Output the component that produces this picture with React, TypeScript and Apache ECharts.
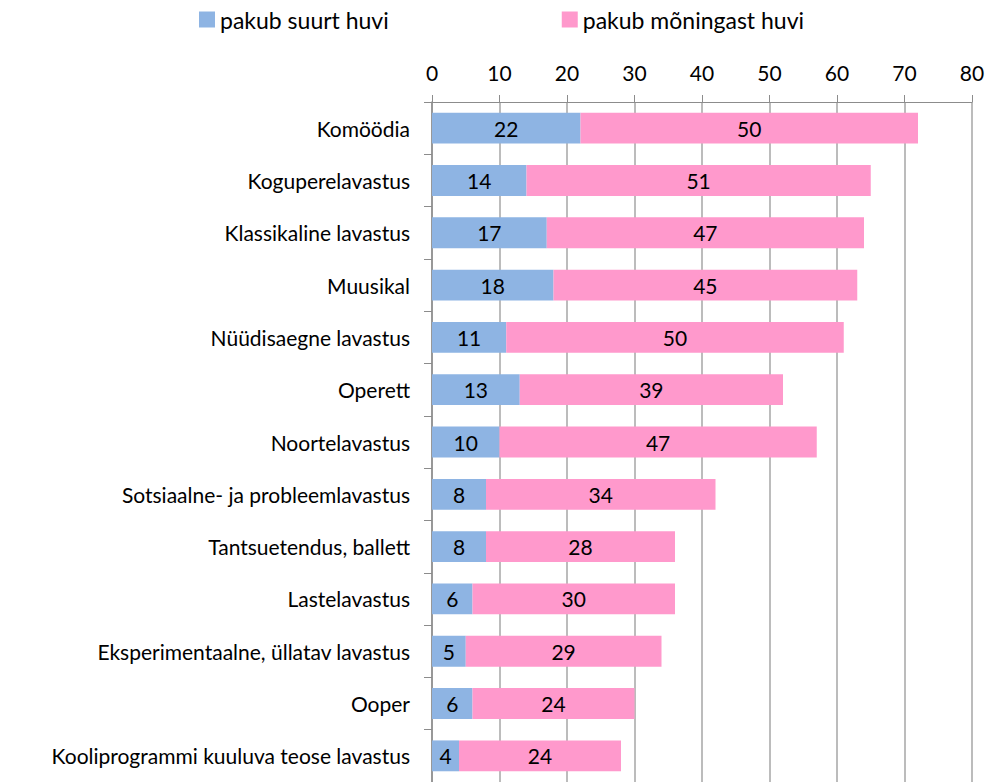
import React, { useEffect, useRef } from "react";
import * as echarts from "echarts";

const categories = [
  "Komöödia",
  "Koguperelavastus",
  "Klassikaline lavastus",
  "Muusikal",
  "Nüüdisaegne lavastus",
  "Operett",
  "Noortelavastus",
  "Sotsiaalne- ja probleemlavastus",
  "Tantsuetendus, ballett",
  "Lastelavastus",
  "Eksperimentaalne, üllatav lavastus",
  "Ooper",
  "Kooliprogrammi kuuluva teose lavastus",
];
const suurtHuvi = [22, 14, 17, 18, 11, 13, 10, 8, 8, 6, 5, 6, 4];
const moningastHuvi = [50, 51, 47, 45, 50, 39, 47, 34, 28, 30, 29, 24, 24];
const seriesNames = ["pakub suurt huvi", "pakub mõningast huvi"];

const FONT = "Lato";

export default function App() {
  const ref = useRef<HTMLDivElement>(null);
  useEffect(() => {
    if (!ref.current) return;
    const chart = echarts.init(ref.current, null, { renderer: "svg" });
    const labelStyle = {
      show: true,
      position: "inside",
      color: "#000",
      fontSize: 21,
      fontFamily: FONT,
    };
    chart.setOption({
      animation: false,
      textStyle: { fontFamily: FONT },
      legend: {
        top: 3,
        left: 194,
        itemWidth: 16,
        itemHeight: 16,
        itemGap: 173,
        icon: "rect",
        textStyle: { fontSize: 23, color: "#000", fontFamily: FONT },
        data: seriesNames,
      },
      grid: { left: 432, right: 16, top: 102, bottom: -1, containLabel: false },
      xAxis: {
        type: "value",
        position: "top",
        min: 0,
        max: 80,
        interval: 10,
        axisLine: { show: true, lineStyle: { color: "#8c8c8c", width: 1 } },
        axisTick: { show: true, length: 7, lineStyle: { color: "#8c8c8c" } },
        axisLabel: { fontSize: 21, color: "#000", margin: 19, fontFamily: FONT },
        splitLine: { show: true, lineStyle: { color: "#a6a6a6", width: 1.5 } },
      },
      yAxis: {
        type: "category",
        inverse: true,
        data: categories,
        axisLine: { show: true, lineStyle: { color: "#8c8c8c", width: 1.5 } },
        axisTick: { show: true, length: 8, lineStyle: { color: "#8c8c8c" } },
        axisLabel: { fontSize: 21, color: "#000", margin: 22, fontFamily: FONT },
      },
      series: [
        {
          name: seriesNames[0],
          type: "bar",
          stack: "total",
          barWidth: "59%",
          data: suurtHuvi,
          itemStyle: { color: "#8EB4E3" },
          label: labelStyle,
        },
        {
          name: seriesNames[1],
          type: "bar",
          stack: "total",
          barWidth: "59%",
          data: moningastHuvi,
          itemStyle: { color: "#FF99CC" },
          label: labelStyle,
        },
      ],
    });
    return () => chart.dispose();
  }, []);
  return <div ref={ref} style={{ width: 988, height: 782, position: "absolute", left: 0, top: 0 }} />;
}
